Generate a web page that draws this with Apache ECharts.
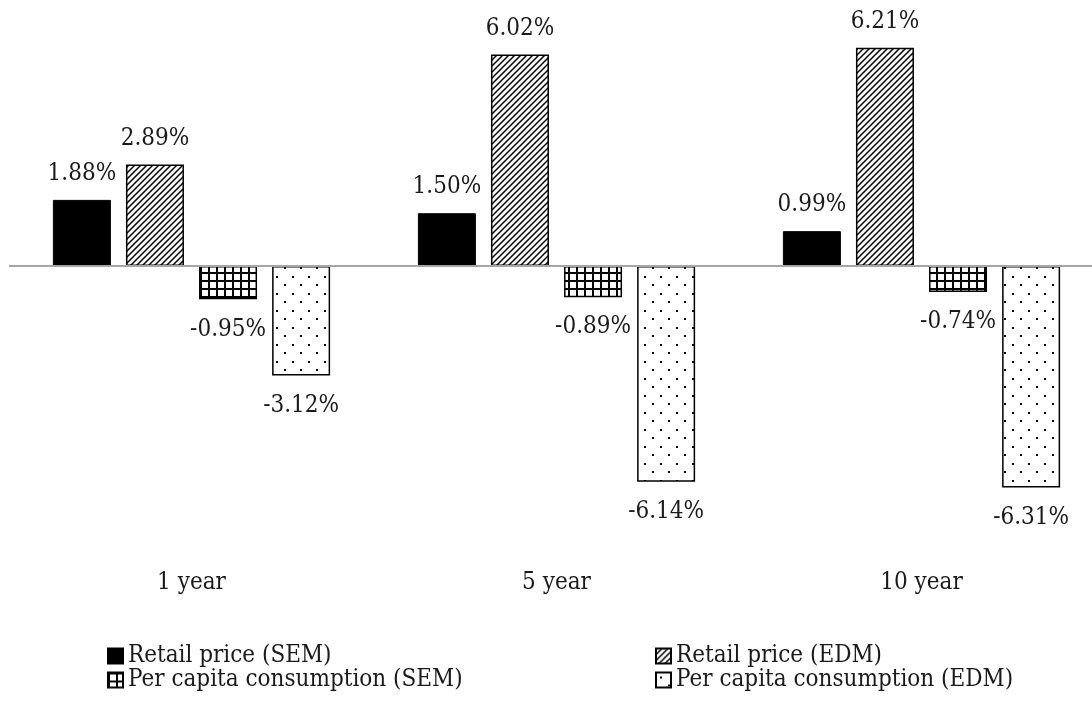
<!DOCTYPE html>
<html>
<head>
<meta charset="utf-8">
<script src="https://cdn.jsdelivr.net/npm/echarts@6/dist/echarts.min.js"></script>
<style>
html,body{margin:0;padding:0;background:#fff;}
#chart{width:1092px;height:701px;}
</style>
</head>
<body>
<div id="chart"></div>
<script>
const categories = ['1 year', '5 year', '10 year'];
const seriesNames = ['Retail price (SEM)', 'Retail price (EDM)', 'Per capita consumption (SEM)', 'Per capita consumption (EDM)'];
const retailSEM = [1.88, 1.50, 0.99];
const retailEDM = [2.89, 6.02, 6.21];
const consumptionSEM = [-0.95, -0.89, -0.74];
const consumptionEDM = [-3.12, -6.14, -6.31];

const FONT = "'DejaVu Serif Condensed', 'DejaVu Serif', serif";
const TEXT = '#1a1a1a';

function makeCanvas(w, h, draw) {
  const c = document.createElement('canvas');
  c.width = w; c.height = h;
  const ctx = c.getContext('2d');
  ctx.fillStyle = '#fff';
  ctx.fillRect(0, 0, w, h);
  draw(ctx, w, h);
  return c;
}
const hatch = makeCanvas(6, 6, (ctx, w, h) => {
  ctx.strokeStyle = '#000';
  ctx.lineWidth = 1.5;
  ctx.beginPath();
  ctx.moveTo(-1, h + 1); ctx.lineTo(w + 1, -1);
  ctx.moveTo(-1, 1); ctx.lineTo(1, -1);
  ctx.moveTo(w - 1, h + 1); ctx.lineTo(w + 1, h - 1);
  ctx.stroke();
});
const grid = makeCanvas(8, 8, (ctx) => {
  ctx.fillStyle = '#000';
  ctx.fillRect(0, 0, 8, 2);
  ctx.fillRect(0, 0, 2, 8);
});
const dots = makeCanvas(16, 17, (ctx) => {
  ctx.fillStyle = '#000';
  ctx.fillRect(4, 4, 2, 2);
  ctx.fillRect(12, 12, 2, 2);
});

const fills = ['#000', {image: hatch, repeat: 'repeat'}, {image: grid, repeat: 'repeat'}, {image: dots, repeat: 'repeat'}];
const values = [retailSEM, retailEDM, consumptionSEM, consumptionEDM];

const series = seriesNames.map((name, i) => ({
  name: name,
  type: 'bar',
  barWidth: 58,
  barGap: '26%',
  itemStyle: {color: fills[i], borderColor: '#000', borderWidth: i === 0 ? 1 : 1.5},
  label: {
    show: true,
    fontFamily: FONT,
    fontSize: 24,
    color: TEXT,
    formatter: p => p.value.toFixed(2) + '%'
  },
  data: values[i].map(v => ({
    value: v,
    label: v >= 0 ? {position: 'top', distance: 14} : {position: 'bottom', distance: 18}
  })),
  markLine: i === 0 ? {
    silent: true,
    symbol: ['none', 'none'],
    label: {show: false},
    lineStyle: {color: '#a6a6a6', width: 2, type: 'solid'},
    data: [{yAxis: 0}]
  } : undefined
}));

const legendCommon = {
  orient: 'vertical',
  top: 639,
  itemGap: 0,
  itemWidth: 15,
  itemHeight: 15,
  icon: 'rect',
  textStyle: {fontFamily: FONT, fontSize: 24, color: TEXT, lineHeight: 24}
};

const chart = echarts.init(document.getElementById('chart'));
chart.setOption({
  animation: false,
  backgroundColor: '#fff',
  grid: {left: 9, top: 20, width: 1095, height: 527, outerBoundsMode: 'none', containLabel: false},
  xAxis: {
    type: 'category',
    data: categories,
    axisLine: {show: false, onZero: false},
    axisTick: {show: false},
    axisLabel: {fontFamily: FONT, fontSize: 24, color: TEXT, margin: 24}
  },
  yAxis: {type: 'value', min: -8, max: 7, show: false, splitLine: {show: false}},
  legend: [
    Object.assign({left: 102, data: [seriesNames[0], seriesNames[2]]}, legendCommon),
    Object.assign({left: 650, data: [seriesNames[1], seriesNames[3]]}, legendCommon)
  ],
  series: series
});
</script>
</body>
</html>
